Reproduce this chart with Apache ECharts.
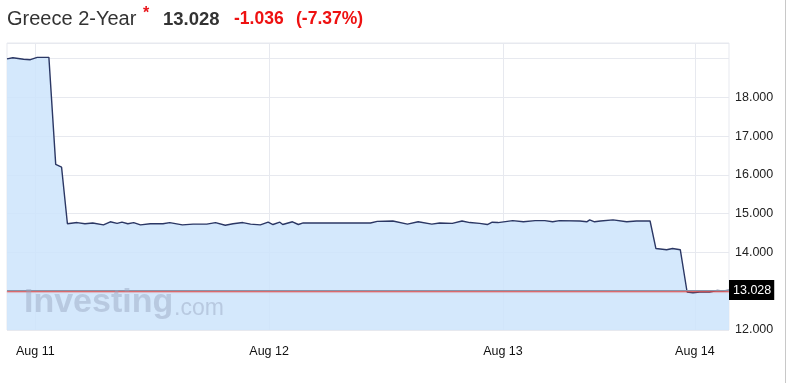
<!DOCTYPE html>
<html>
<head>
<meta charset="utf-8">
<script src="https://cdn.jsdelivr.net/npm/echarts@6/dist/echarts.min.js"></script>
<style>
html,body{margin:0;padding:0;background:#fff;}
#chart{width:787px;height:383px;}
</style>
</head>
<body>
<div id="chart"></div>
<script>
// Hours relative to Aug 11 00:00 (trading-time axis)
const hours = [-2.9,-2.3,-1.2,-0.5,0.2,1.4,2.1,2.7,3.3,4.3,5.1,5.9,7.0,7.7,8.4,8.9,9.5,10.1,10.8,11.8,13.1,13.8,15.1,16.2,17.6,18.5,19.5,20.3,21.3,22.1,23.1,23.9,24.4,25.1,25.4,26.4,27.0,27.5,34.4,35.1,36.7,38.2,39.3,40.7,41.5,42.8,43.8,44.6,45.6,46.4,46.9,47.5,49.0,50.1,51.3,52.3,53.1,53.8,55.9,56.6,56.9,57.4,58.0,59.3,60.7,61.7,63.1,63.7,64.8,65.4,66.2,66.9,67.5,68.2,69.2,70.0,70.6,71.2];
const yields = [18.99,19.02,18.98,18.97,19.03,19.03,16.27,16.20,14.74,14.77,14.74,14.76,14.71,14.79,14.75,14.78,14.74,14.77,14.71,14.74,14.74,14.77,14.71,14.73,14.73,14.77,14.70,14.74,14.77,14.73,14.71,14.78,14.72,14.78,14.72,14.79,14.72,14.76,14.76,14.80,14.81,14.73,14.79,14.73,14.76,14.75,14.81,14.77,14.75,14.72,14.78,14.77,14.82,14.79,14.82,14.82,14.79,14.82,14.81,14.79,14.84,14.79,14.81,14.84,14.79,14.81,14.81,14.10,14.07,14.10,14.07,12.98,12.96,12.98,12.98,13.02,13.01,13.028];
const dayTicks = [0, 24, 48, 67.7];
const dayLabels = ['Aug 11', 'Aug 12', 'Aug 13', 'Aug 14'];
const lastPrice = 13.028;
const title = 'Greece 2-Year';
const change = '-1.036';
const changePct = '(-7.37%)';

const chart = echarts.init(document.getElementById('chart'), null, {renderer: 'canvas'});
const gridColor = '#e7e9ef';
const font = '"Liberation Sans", Arial, sans-serif';

chart.setOption({
  animation: false,
  backgroundColor: '#fff',
  grid: {left: 7, right: 58, top: 43, bottom: 53, show: true, borderColor: gridColor, borderWidth: 1},
  xAxis: {
    type: 'value', min: -2.9, max: 71.2,
    axisLine: {show: false},
    axisTick: {show: false, customValues: dayTicks},
    axisLabel: {
      customValues: dayTicks, margin: 15, color: '#111', fontSize: 12.5, fontFamily: font,
      formatter: v => { const i = dayTicks.indexOf(v); return i >= 0 ? dayLabels[i] : ''; }
    },
    splitLine: {show: true, lineStyle: {color: gridColor, width: 1}}
  },
  yAxis: {
    type: 'value', position: 'right', min: 12, max: 19.4, interval: 1,
    axisLine: {show: false}, axisTick: {show: false},
    axisLabel: {
      margin: 6, color: '#222', fontSize: 12.5, fontFamily: font,
      showMaxLabel: false,
      formatter: v => (v > 18.5 || Math.abs(v - 13) < 0.01) ? '' : v.toFixed(3)
    },
    splitLine: {show: true, lineStyle: {color: gridColor, width: 1}}
  },
  series: [{
    type: 'line',
    data: hours.map((h, i) => [h, yields[i]]),
    showSymbol: false,
    symbol: 'none',
    lineStyle: {color: '#2b3764', width: 1.4},
    areaStyle: {color: 'rgba(204,228,252,0.85)', opacity: 1, origin: 'start'},
    z: 2,
    markLine: {
      silent: true, symbol: 'none', animation: false,
      lineStyle: {color: '#8894aa', width: 1.2, type: 'solid', shadowColor: 'rgba(220,80,80,1)', shadowOffsetY: 1.2, shadowBlur: 1},
      label: {
        show: true, position: 'end', distance: 0,
        formatter: () => lastPrice.toFixed(3),
        backgroundColor: '#000', color: '#fff', padding: [4, 3, 3, 4],
        fontSize: 12.5, fontFamily: font
      },
      data: [{yAxis: lastPrice}]
    }
  }],
  graphic: [
    {type: 'text', left: 7, top: 9, style: {text: title, font: '20px ' + font, fill: '#333'}},
    {type: 'text', left: 143, top: 6, style: {text: '*', font: 'bold 16px ' + font, fill: '#e8141a'}},
    {type: 'text', left: 163, top: 10, style: {text: lastPrice.toFixed(3), font: 'bold 18.5px ' + font, fill: '#333'}},
    {type: 'text', left: 234, top: 10, style: {text: change, font: 'bold 17.5px ' + font, fill: '#ee1111'}},
    {type: 'text', left: 296, top: 10, style: {text: changePct, font: 'bold 17.5px ' + font, fill: '#ee1111'}},
    {type: 'text', left: 24, top: 286, z: 10, style: {text: 'Investing', font: 'bold 34px ' + font, fill: 'rgba(150,165,190,0.45)'}},
    {type: 'text', left: 174, top: 297, z: 10, style: {text: '.com', font: '23px ' + font, fill: 'rgba(150,165,190,0.45)'}},
    {type: 'rect', left: 785, top: 0, shape: {width: 1, height: 383}, style: {fill: '#c8c8c8'}}
  ]
});
</script>
</body>
</html>
